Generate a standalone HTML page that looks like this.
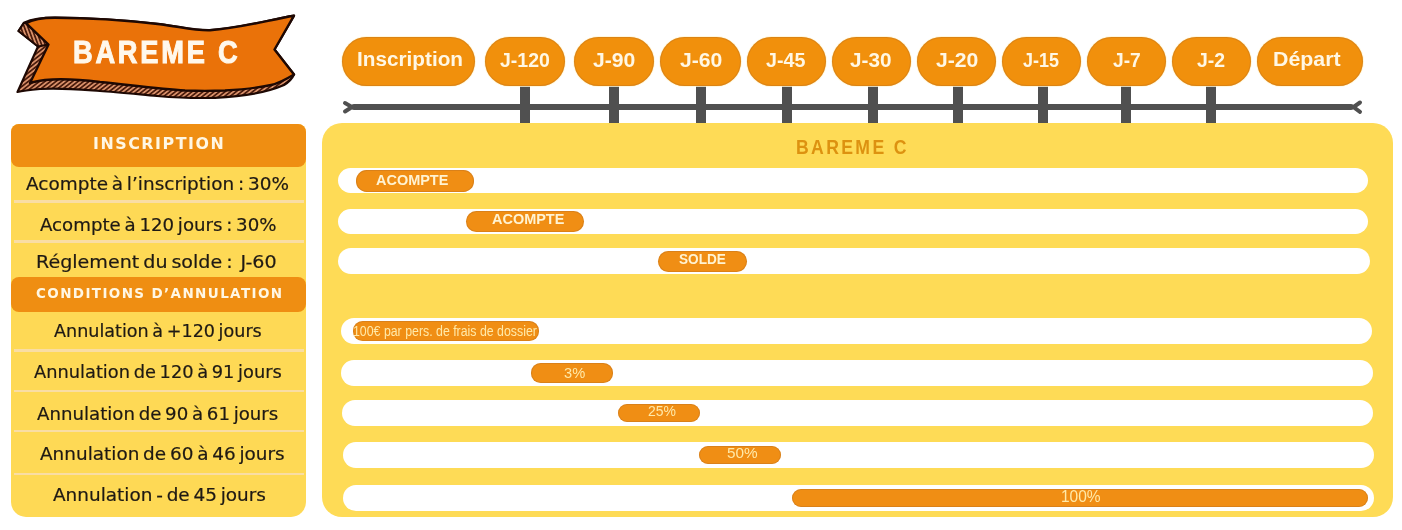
<!DOCTYPE html>
<html lang="fr"><head><meta charset="utf-8"><title>Barème C</title>
<style>
html,body{margin:0;padding:0;background:#fff;}
body{width:1402px;height:530px;position:relative;overflow:hidden;font-family:"Liberation Sans",sans-serif;}
.abs{position:absolute;}
.t{position:absolute;white-space:nowrap;line-height:1;transform-origin:0 0;}
.lt{-webkit-text-stroke:0.2px #1E1914;}
.banner{-webkit-text-stroke:1px #FFF8EC;}
.pill{position:absolute;top:37px;height:49px;border-radius:24.5px;background:#F1900C;box-shadow:inset 0 0 0 1px rgba(196,116,30,0.45),0 0 0 1px rgba(255,246,214,0.8);}
.bp{position:absolute;box-shadow:inset 0 0 0 1px rgba(190,112,30,0.45);}
</style></head><body>

<svg class="abs" style="left:0;top:0" width="310" height="110" viewBox="0 0 310 110">
 <defs>
  <pattern id="hatchB" patternUnits="userSpaceOnUse" width="3.4" height="6" patternTransform="rotate(52)">
   <rect width="3.4" height="6" fill="#421406"/>
   <rect x="0.8" width="1.8" height="6" fill="#d8906a"/>
  </pattern>
  <pattern id="hatchA" patternUnits="userSpaceOnUse" width="3.4" height="6" patternTransform="rotate(-20)">
   <rect width="3.4" height="6" fill="#421406"/>
   <rect x="0.8" width="1.8" height="6" fill="#d8906a"/>
  </pattern>
 </defs>
 <path d="M24,22.7 C33,18.7 45,17.7 55,17.7 C95,17.7 130,20.7 160,24.2 C180,26.7 195,30.7 210,30.2 C240,28.2 268,20.2 294,15.7 L274.5,49.5 L294,74.5 C292,79 289,82 284,85 C268,92 245,96.5 215,97.8 C195,98.5 175,97.5 157,96 C135,94 115,92 100,91 C80,89.5 60,87.5 40,89 C30,90 22,91 17.5,92 L38,46.5 L18.5,31 Z" fill="url(#hatchB)" stroke="#1e0803" stroke-width="2.2" stroke-linejoin="round"/>
 <path d="M24,22.7 L18.5,31 L38,46.5 L48.5,44.5 L26,23.2 Z" fill="url(#hatchA)" stroke="#1e0803" stroke-width="2" stroke-linejoin="round"/>
 <path d="M26,23.2 C33,19.2 45,17.7 55,17.7 C95,17.7 130,20.7 160,24.2 C180,26.7 195,30.7 210,30.2 C240,28.2 268,20.2 294,15.7 L274.5,49.5 L294,74.5 C285,80 278,83.5 271,85 C255,88.5 242,89.5 225,90.5 C210,91 200,91 185,90.5 C160,89 130,85 100,82 C80,79.5 60,78.5 45,80 C38,81 33,82 30,83 L48.5,44.5 Z" fill="#EA7209" stroke="#1e0803" stroke-width="2.4" stroke-linejoin="round"/>
</svg>
<div class="abs" style="left:351px;top:104px;width:1003px;height:6px;background:#505050;border-radius:3px"></div>
<div class="abs" style="left:520.3px;top:84px;width:10px;height:40px;background:#505050"></div>
<div class="abs" style="left:609.4px;top:84px;width:10px;height:40px;background:#505050"></div>
<div class="abs" style="left:695.6px;top:84px;width:10px;height:40px;background:#505050"></div>
<div class="abs" style="left:781.6px;top:84px;width:10px;height:40px;background:#505050"></div>
<div class="abs" style="left:867.6px;top:84px;width:10px;height:40px;background:#505050"></div>
<div class="abs" style="left:952.7px;top:84px;width:10px;height:40px;background:#505050"></div>
<div class="abs" style="left:1037.8px;top:84px;width:10px;height:40px;background:#505050"></div>
<div class="abs" style="left:1121.4px;top:84px;width:10px;height:40px;background:#505050"></div>
<div class="abs" style="left:1206.0px;top:84px;width:10px;height:40px;background:#505050"></div>
<svg class="abs" style="left:0;top:0" width="1402" height="130" viewBox="0 0 1402 130">
<g stroke="#505050" stroke-width="4" stroke-linecap="round" fill="none">
<path d="M345,103 L352,107 L345,111.5"/>
<path d="M1360,102.5 L1353.5,107 L1360,111.8"/>
</g></svg>
<div class="pill" style="left:342px;width:133.0px"></div>
<div class="pill" style="left:485px;width:80.0px"></div>
<div class="pill" style="left:574px;width:80.0px"></div>
<div class="pill" style="left:660px;width:81.0px"></div>
<div class="pill" style="left:747px;width:79.0px"></div>
<div class="pill" style="left:831.5px;width:79.5px"></div>
<div class="pill" style="left:916.6px;width:79.4px"></div>
<div class="pill" style="left:1002px;width:79.0px"></div>
<div class="pill" style="left:1086.6px;width:79.4px"></div>
<div class="pill" style="left:1172px;width:79.0px"></div>
<div class="pill" style="left:1256.6px;width:106.4px"></div>
<div class="abs" style="left:11px;top:123.5px;width:295px;height:393px;background:#FED955;border-radius:8px 8px 15px 15px"></div>
<div class="abs" style="left:11px;top:123.5px;width:295px;height:43px;background:#EF8E12;border-radius:8px"></div>
<div class="abs" style="left:11px;top:277.4px;width:295px;height:34.3px;background:#EF8E12;border-radius:8px"></div>
<div class="abs" style="left:14px;top:200.4px;width:290px;height:2.5px;background:#F9DDA4"></div>
<div class="abs" style="left:14px;top:240.0px;width:290px;height:2.5px;background:#F9DDA4"></div>
<div class="abs" style="left:14px;top:349.3px;width:290px;height:2.5px;background:#F9DDA4"></div>
<div class="abs" style="left:14px;top:389.8px;width:290px;height:2.5px;background:#F9DDA4"></div>
<div class="abs" style="left:14px;top:429.8px;width:290px;height:2.5px;background:#F9DDA4"></div>
<div class="abs" style="left:14px;top:472.8px;width:290px;height:2.5px;background:#F9DDA4"></div>
<div class="abs" style="left:321.5px;top:123px;width:1071px;height:393.5px;background:#FEDB56;border-radius:20px"></div>
<div class="abs" style="left:337.5px;top:168.3px;width:1030.8px;height:25.2px;background:#fff;border-radius:12.6px"></div>
<div class="abs" style="left:337.5px;top:208.8px;width:1030.8px;height:25.6px;background:#fff;border-radius:12.8px"></div>
<div class="abs" style="left:338px;top:248.2px;width:1031.9px;height:26.0px;background:#fff;border-radius:13.0px"></div>
<div class="abs" style="left:341.1px;top:317.7px;width:1030.5px;height:26.5px;background:#fff;border-radius:13.2px"></div>
<div class="abs" style="left:341px;top:360px;width:1031.5px;height:25.8px;background:#fff;border-radius:12.9px"></div>
<div class="abs" style="left:342px;top:399.8px;width:1030.9px;height:26.0px;background:#fff;border-radius:13.0px"></div>
<div class="abs" style="left:342.8px;top:442.4px;width:1031.0px;height:25.8px;background:#fff;border-radius:12.9px"></div>
<div class="abs" style="left:342.8px;top:484.8px;width:1031.0px;height:26.1px;background:#fff;border-radius:13.0px"></div>
<div class="bp" style="left:356px;top:170.3px;width:118.2px;height:21.4px;background:#F08E14;border-radius:10.7px"></div>
<div class="bp" style="left:465.8px;top:210.9px;width:118.2px;height:21.6px;background:#F08E14;border-radius:10.8px"></div>
<div class="bp" style="left:658.1px;top:250.9px;width:88.8px;height:20.8px;background:#F08E14;border-radius:10.4px"></div>
<div class="bp" style="left:353.1px;top:321.1px;width:185.7px;height:19.7px;background:#F08E14;border-radius:9.8px"></div>
<div class="bp" style="left:530.9px;top:363.1px;width:82.6px;height:19.7px;background:#F08E14;border-radius:9.8px"></div>
<div class="bp" style="left:618px;top:403.9px;width:82.4px;height:18.1px;background:#F08E14;border-radius:9.1px"></div>
<div class="bp" style="left:698.8px;top:445.7px;width:81.9px;height:17.9px;background:#F08E14;border-radius:9.0px"></div>
<div class="bp" style="left:792.2px;top:488.9px;width:576.0px;height:17.9px;background:#F08E14;border-radius:9.0px"></div>
<div class="t " style="left:356.56px;top:49px;font-size:20px;font-weight:700;color:#FFF7E4;transform:scaleX(1.0369);">Inscription</div>
<div class="t " style="left:499.80px;top:51px;font-size:19.43px;font-weight:700;color:#FFF7E4;transform:scaleX(1.0053);">J-120</div>
<div class="t " style="left:593.00px;top:51px;font-size:19.43px;font-weight:700;color:#FFF7E4;transform:scaleX(1.0907);">J-90</div>
<div class="t " style="left:679.80px;top:51px;font-size:19.43px;font-weight:700;color:#FFF7E4;transform:scaleX(1.0907);">J-60</div>
<div class="t " style="left:766.40px;top:51px;font-size:19.43px;font-weight:700;color:#FFF7E4;transform:scaleX(1.0141);">J-45</div>
<div class="t " style="left:850.40px;top:51px;font-size:19.43px;font-weight:700;color:#FFF7E4;transform:scaleX(1.0671);">J-30</div>
<div class="t " style="left:935.50px;top:51px;font-size:19.43px;font-weight:700;color:#FFF7E4;transform:scaleX(1.0907);">J-20</div>
<div class="t " style="left:1022.80px;top:51px;font-size:19.43px;font-weight:700;color:#FFF7E4;transform:scaleX(0.9271);">J-15</div>
<div class="t " style="left:1113.00px;top:51px;font-size:19.43px;font-weight:700;color:#FFF7E4;transform:scaleX(0.9906);">J-7</div>
<div class="t " style="left:1197.00px;top:51px;font-size:19.43px;font-weight:700;color:#FFF7E4;transform:scaleX(1.0016);">J-2</div>
<div class="t " style="left:1273.40px;top:50px;font-size:19.43px;font-weight:700;color:#FFF7E4;transform:scaleX(1.0982);">Départ</div>
<div class="t " style="left:93.34px;top:136px;font-size:16.44px;font-weight:700;color:#FFF7E4;font-family:'DejaVu Sans',sans-serif;transform:scaleX(0.9634);letter-spacing:1.6px;">INSCRIPTION</div>
<div class="t " style="left:36.00px;top:287px;font-size:13.7px;font-weight:700;color:#FFF7E4;font-family:'DejaVu Sans',sans-serif;transform:scaleX(0.9862);letter-spacing:1.4px;">CONDITIONS D’ANNULATION</div>
<div class="t lt" style="left:26.30px;top:175px;font-size:17.81px;font-weight:400;color:#1E1914;font-family:'DejaVu Sans',sans-serif;transform:scaleX(1.0364);word-spacing:-2px;">Acompte à l’inscription : 30%</div>
<div class="t lt" style="left:39.90px;top:216px;font-size:17.81px;font-weight:400;color:#1E1914;font-family:'DejaVu Sans',sans-serif;transform:scaleX(1.0217);word-spacing:-2px;">Acompte à 120 jours : 30%</div>
<div class="t lt" style="left:36.43px;top:253px;font-size:17.81px;font-weight:400;color:#1E1914;font-family:'DejaVu Sans',sans-serif;transform:scaleX(1.0735);word-spacing:-2px;">Réglement du solde :&nbsp; J-60</div>
<div class="t lt" style="left:54.30px;top:322px;font-size:17.81px;font-weight:400;color:#1E1914;font-family:'DejaVu Sans',sans-serif;transform:scaleX(0.9874);word-spacing:-2px;">Annulation à +120 jours</div>
<div class="t lt" style="left:33.90px;top:363px;font-size:17.81px;font-weight:400;color:#1E1914;font-family:'DejaVu Sans',sans-serif;transform:scaleX(1.0003);word-spacing:-2px;">Annulation de 120 à 91 jours</div>
<div class="t lt" style="left:36.90px;top:405px;font-size:17.81px;font-weight:400;color:#1E1914;font-family:'DejaVu Sans',sans-serif;transform:scaleX(1.0207);word-spacing:-2px;">Annulation de 90 à 61 jours</div>
<div class="t lt" style="left:40.00px;top:445px;font-size:17.81px;font-weight:400;color:#1E1914;font-family:'DejaVu Sans',sans-serif;transform:scaleX(1.0351);word-spacing:-2px;">Annulation de 60 à 46 jours</div>
<div class="t lt" style="left:53.00px;top:486px;font-size:17.81px;font-weight:400;color:#1E1914;font-family:'DejaVu Sans',sans-serif;transform:scaleX(1.0359);word-spacing:-2px;">Annulation - de 45 jours</div>
<div class="t " style="left:795.59px;top:138px;font-size:19.43px;font-weight:700;color:#DD9210;transform:scaleX(0.9073);letter-spacing:2.6px;">BAREME C</div>
<div class="t " style="left:376.00px;top:173px;font-size:14.71px;font-weight:700;color:#FFF3D2;transform:scaleX(0.9836);">ACOMPTE</div>
<div class="t " style="left:491.50px;top:212px;font-size:14.71px;font-weight:700;color:#FFF3D2;transform:scaleX(0.9836);">ACOMPTE</div>
<div class="t " style="left:679.00px;top:252px;font-size:14.71px;font-weight:700;color:#FFF3D2;transform:scaleX(0.9244);">SOLDE</div>
<div class="t " style="left:353.14px;top:324px;font-size:14.35px;font-weight:400;color:#FFE9A8;transform:scaleX(0.8604);">100€ par pers. de frais de dossier</div>
<div class="t " style="left:564.10px;top:365px;font-size:15.36px;font-weight:400;color:#FFE9A8;transform:scaleX(0.9538);">3%</div>
<div class="t " style="left:647.90px;top:403px;font-size:15.36px;font-weight:400;color:#FFE9A8;transform:scaleX(0.9104);">25%</div>
<div class="t " style="left:727.10px;top:445px;font-size:15.36px;font-weight:400;color:#FFE9A8;transform:scaleX(0.9973);">50%</div>
<div class="t " style="left:1060.57px;top:489px;font-size:16.67px;font-weight:400;color:#FFE9A8;transform:scaleX(0.9308);">100%</div>
<div class="t banner" style="left:73.08px;top:37px;font-size:31.71px;font-weight:700;color:#FFF8EC;transform:scaleX(0.8597);letter-spacing:3.2px;">BAREME C</div>
</body></html>
